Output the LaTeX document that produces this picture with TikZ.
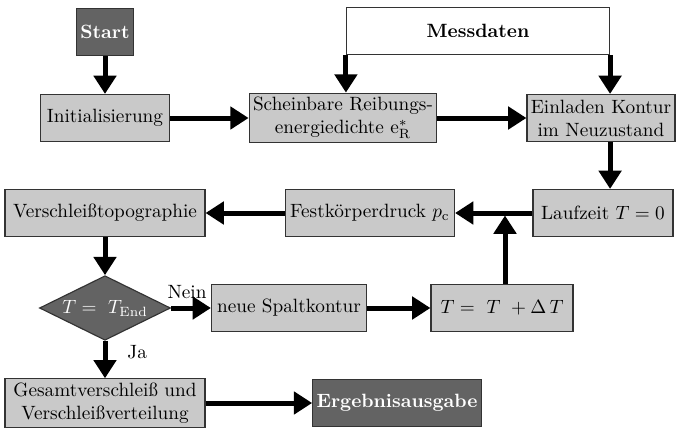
\documentclass[tikz,border=0pt]{standalone}
\usepackage{amsmath}
\usepackage{xcolor}
\usepackage{tikz}
\usetikzlibrary{arrows.meta,shapes.geometric,calc,positioning}

\definecolor{boxgray}{gray}{0.79}
\definecolor{darkbox}{gray}{0.39}
\definecolor{rimgray}{gray}{0.2}

\newcommand{\px}{0.52pt}

\begin{document}
\begin{tikzpicture}
    [
      x = \px, y = -\px,
      box/.style  = {draw=rimgray, fill=boxgray, semithick, minimum height=47*\px, align=center, inner sep=2pt},
      dbox/.style = {box, fill=darkbox, text=white, font=\bfseries},
      flow/.style = {line width=2.6pt, -{Triangle[width=11.5pt,length=9.5pt]}},
    ]
    \useasboundingbox (0,0) rectangle (677,428);

    % obere Reihe
    \node[dbox, minimum width=56*\px] (start) at (105,32) {Start};
    \node[box, minimum width=129*\px] (init) at (105,118) {Initialisierung};
    \node[box, minimum width=187*\px] (schein) at (343,118) {Scheinbare Reibungs-\\energiedichte e$^{*}_{\mathrm{R}}$};
    \node[box, fill=white, font=\bfseries, minimum width=263*\px] (mess) at (478,31) {Messdaten};
    \node[box, minimum width=144*\px] (einl) at (601,118) {Einladen Kontur\\im Neuzustand};

    % Schleife
    \node[box, minimum width=140*\px] (lauf) at (603,213) {Laufzeit $T=0$};
    \node[box, minimum width=169*\px] (fest) at (370,213) {Festkörperdruck $p_{\mathrm{c}}$};
    \node[box, minimum width=200*\px] (topo) at (105,213) {Verschleißtopographie};
    \node[diamond, draw=rimgray, fill=darkbox, text=white, semithick, aspect=2,
          minimum width=131*\px, minimum height=62*\px, inner sep=1pt] (ende) at (105,308) {$T = \ T_{\mathrm{End}}$};
    \node[box, minimum width=155*\px] (spalt) at (289,308) {neue Spaltkontur};
    \node[box, minimum width=142*\px] (schritt) at (502,308) {$T =\ T\ + \Delta\,T$};

    % Ausgabe
    \node[box, minimum width=200*\px] (gesamt) at (105,403) {Gesamtverschleiß und\\Verschleißverteilung};
    \node[dbox, minimum width=164*\px] (ausgabe) at (397,403) {Ergebnisausgabe};

    \draw[flow] (start) -- (init);
    \draw[flow] (init) -- (schein);
    \draw[flow] (schein) -- (einl);
    \draw[flow] (mess.south west) -- (mess.south west |- schein.north);
    \draw[flow] (mess.south east) -- (mess.south east |- einl.north);
    \draw[flow] (mess.south east |- einl.south) -- (mess.south east |- lauf.north);
    \draw[flow] (lauf) -- (fest);
    \draw[flow] (fest) -- (topo);
    \draw[flow] (topo) -- (ende);
    \draw[flow] (ende) -- node[above, pos=0.4] {Nein} (spalt);
    \draw[flow] (ende) -- node[right=7pt, pos=0.3] {Ja} (gesamt);
    \draw[flow] (spalt) -- (schritt);
    \draw[flow] ($(schritt.north)+(3,0)$) -- ($(schritt.north |- lauf.west)+(3,2.5)$);
    \draw[flow] (gesamt) -- (ausgabe);
  \end{tikzpicture}
\end{document}
